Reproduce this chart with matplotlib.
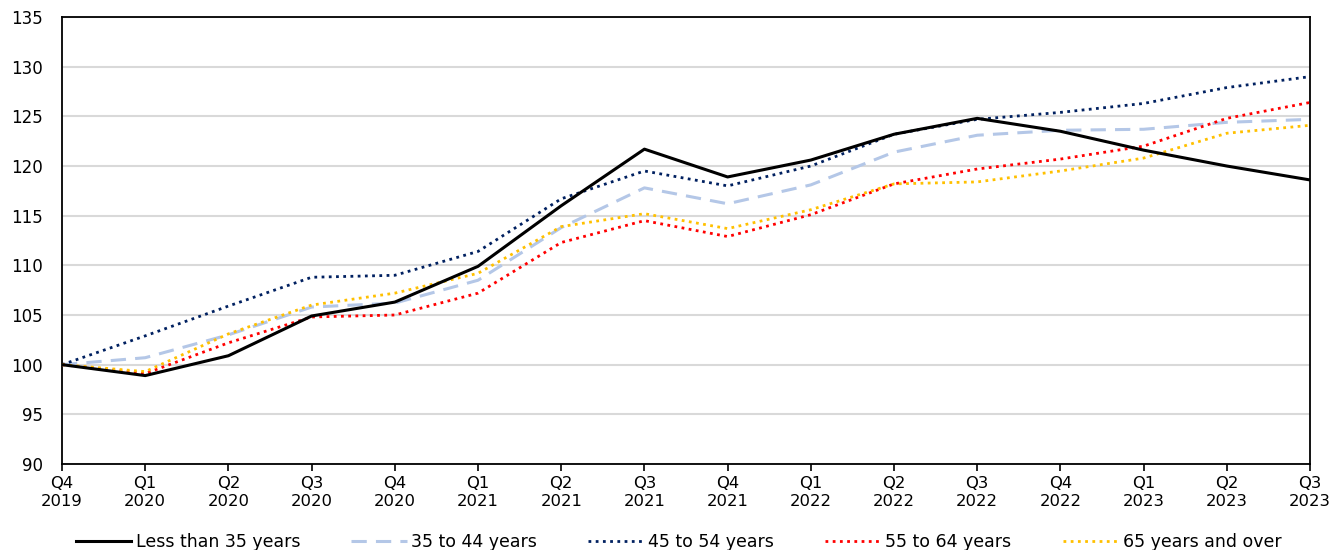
import numpy as np
import matplotlib
matplotlib.use("Agg")
import matplotlib.pyplot as plt

quarters = ["Q4\n2019", "Q1\n2020", "Q2\n2020", "Q3\n2020", "Q4\n2020", "Q1\n2021",
            "Q2\n2021", "Q3\n2021", "Q4\n2021", "Q1\n2022", "Q2\n2022", "Q3\n2022",
            "Q4\n2022", "Q1\n2023", "Q2\n2023", "Q3\n2023"]

under_35 = [100, 98.9, 100.9, 104.9, 106.3, 109.9, 116.0, 121.7, 118.9, 120.6,
            123.2, 124.8, 123.5, 121.6, 120.0, 118.6]
age_35_44 = [100, 100.7, 103.0, 105.8, 106.2, 108.5, 113.8, 117.8, 116.2, 118.1,
             121.4, 123.1, 123.6, 123.7, 124.4, 124.7]
age_45_54 = [100, 102.9, 105.9, 108.8, 109.0, 111.4, 116.7, 119.5, 118.0, 120.0,
             123.2, 124.7, 125.4, 126.3, 127.9, 129.0]
age_55_64 = [100, 99.1, 102.2, 104.8, 105.0, 107.2, 112.3, 114.5, 112.9, 115.1,
             118.2, 119.7, 120.7, 122.0, 124.8, 126.4]
age_65_up = [100, 99.3, 103.1, 106.0, 107.2, 109.2, 113.9, 115.2, 113.7, 115.6,
             118.2, 118.4, 119.5, 120.8, 123.3, 124.1]

plt.rcParams['font.family'] = ['DejaVu Sans']

fig = plt.figure(figsize=(13.34, 5.5), dpi=100)
ax = fig.add_axes([0.0465, 0.1564, 0.9355, 0.8126])

x = np.arange(len(quarters))
ax.plot(x, under_35, color='black', lw=2.2, label='Less than 35 years', zorder=5)
ax.plot(x, age_35_44, color='#b4c7e7', lw=2.2, dashes=(5, 3), label='35 to 44 years', zorder=4)
ax.plot(x, age_45_54, color='#002060', lw=2.0, linestyle=(0, (1, 1.6)), label='45 to 54 years', zorder=4)
ax.plot(x, age_55_64, color='#ff0000', lw=2.0, linestyle=(0, (1, 1.6)), label='55 to 64 years', zorder=4)
ax.plot(x, age_65_up, color='#ffc000', lw=2.0, linestyle=(0, (1, 1.6)), label='65 years and over', zorder=4)

ax.set_xlim(0, len(quarters) - 1)
ax.set_ylim(90, 135)
ax.set_yticks(np.arange(90, 136, 5))
ax.set_xticks(x)
ax.set_xticklabels(quarters, fontsize=11.8, linespacing=1.25)
ax.tick_params(axis='y', length=0, labelsize=12, pad=14)
ax.tick_params(axis='x', length=5, width=1.2, direction='out', pad=4)
ax.grid(axis='y', color='#d9d9d9', lw=1.5)
ax.set_axisbelow(True)
for s in ax.spines.values():
    s.set_linewidth(1.3)
    s.set_color('black')

ax.legend(loc='upper center', bbox_to_anchor=(0.494, -0.12), ncol=5, frameon=False,
          fontsize=12.5, handlelength=3.2, columnspacing=2.95, handletextpad=0.25)

fig.savefig('out.png', dpi=100)
